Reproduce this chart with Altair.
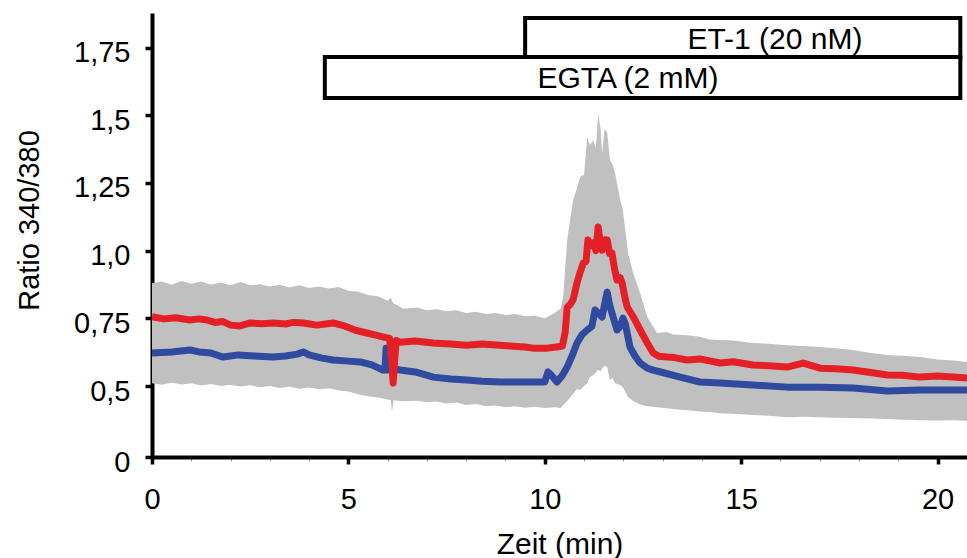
import altair as alt
import pandas as pd

# ---------------- data ----------------
red_t = [0, 0.3, 0.6, 0.97, 1.2, 1.4, 1.6, 1.81, 2.0, 2.24, 2.5, 2.8, 3.08, 3.4, 3.6, 3.85, 4.2, 4.61,
         4.9, 5.2, 5.47, 5.7, 5.9, 6.05, 6.1, 6.14, 6.18, 6.22, 6.32, 6.7, 7.16, 7.6, 8.02, 8.4, 8.86,
         9.2, 9.5, 9.7, 10.06, 10.3, 10.45, 10.52, 10.57, 10.64, 10.72, 10.82, 10.9, 10.98, 11.05,
         11.1, 11.16, 11.23, 11.3, 11.36, 11.42, 11.46, 11.52, 11.59, 11.65, 11.71, 11.78, 11.84,
         11.92, 11.97, 12.05, 12.1, 12.25, 12.43, 12.61, 12.76, 12.9, 13.11, 13.3, 13.62, 13.95,
         14.2, 14.46, 14.8, 15.3, 15.7, 16.17, 16.58, 17.01, 17.4, 17.85, 18.3, 18.72, 19.1, 19.56,
         20.0, 20.4, 20.75]
red_v = [0.756, 0.748, 0.752, 0.744, 0.748, 0.744, 0.735, 0.738, 0.725, 0.722, 0.733, 0.730, 0.733,
         0.729, 0.735, 0.733, 0.725, 0.733, 0.722, 0.705, 0.696, 0.688, 0.681, 0.676, 0.600, 0.511,
         0.600, 0.668, 0.662, 0.666, 0.659, 0.655, 0.651, 0.655, 0.651, 0.647, 0.644, 0.640, 0.640,
         0.644, 0.648, 0.700, 0.790, 0.800, 0.818, 0.880, 0.920, 0.954, 0.960, 1.039, 1.020, 1.028,
         1.000, 1.087, 1.020, 1.002, 1.040, 1.039, 0.990, 0.991, 0.930, 0.891, 0.900, 0.880, 0.820,
         0.792, 0.756, 0.707, 0.659, 0.622, 0.610, 0.607, 0.605, 0.596, 0.600, 0.593, 0.585, 0.590,
         0.578, 0.575, 0.570, 0.585, 0.566, 0.564, 0.559, 0.550, 0.541, 0.540, 0.533, 0.537, 0.533,
         0.530]

blue_t = [0, 0.5, 0.97, 1.2, 1.5, 1.81, 2.2, 2.6, 3.08, 3.4, 3.7, 3.85, 4.0, 4.3, 4.61, 5.0, 5.3,
          5.6, 5.88, 5.93, 5.96, 5.99, 6.2, 6.32, 6.7, 7.16, 7.6, 8.02, 8.4, 8.86, 9.3, 9.7, 10.0,
          10.08, 10.14, 10.31, 10.45, 10.57, 10.72, 10.82, 10.95, 11.08, 11.2, 11.28, 11.36, 11.46,
          11.52, 11.59, 11.65, 11.71, 11.84, 11.92, 11.99, 12.05, 12.17, 12.3, 12.43, 12.61, 12.76,
          13.0, 13.45, 13.95, 14.46, 15.3, 16.17, 17.01, 17.85, 18.72, 19.56, 20.75]
blue_v = [0.622, 0.626, 0.633, 0.626, 0.622, 0.607, 0.615, 0.611, 0.607, 0.611, 0.618, 0.626, 0.615,
          0.604, 0.596, 0.592, 0.589, 0.578, 0.559, 0.559, 0.640, 0.559, 0.562, 0.559, 0.552, 0.533,
          0.526, 0.522, 0.518, 0.515, 0.515, 0.515, 0.515, 0.552, 0.545, 0.515, 0.540, 0.570, 0.620,
          0.659, 0.690, 0.707, 0.720, 0.781, 0.770, 0.755, 0.800, 0.847, 0.800, 0.770, 0.707, 0.720,
          0.751, 0.730, 0.644, 0.610, 0.585, 0.566, 0.559, 0.550, 0.533, 0.515, 0.511, 0.504, 0.496,
          0.496, 0.493, 0.482, 0.485, 0.485]

band_t = [0.0, 0.25, 0.5, 0.75, 1.0, 1.25, 1.5, 1.75, 2.0, 2.25, 2.5, 2.75, 3.0, 3.25, 3.5, 3.75,
          4.0, 4.25, 4.5, 4.75, 5.0, 5.25, 5.5, 5.75, 6.0, 6.08, 6.11, 6.15, 6.4, 6.75, 7.0, 7.25,
          7.5, 7.75, 8.0, 8.25, 8.5, 8.75, 9.0, 9.25, 9.5, 9.75, 10.0, 10.25, 10.4, 10.47, 10.57,
          10.72, 10.82, 10.9, 11.0, 11.08, 11.15, 11.23, 11.3, 11.36, 11.42, 11.46, 11.52, 11.59,
          11.66, 11.72, 11.79, 11.92, 11.99, 12.12, 12.25, 12.43, 12.61, 12.86, 13.1, 13.27, 13.62,
          13.95, 14.2, 14.46, 14.8, 15.3, 15.7, 16.17, 16.6, 17.01, 17.4, 17.85, 18.3, 18.72, 19.1,
          19.56, 20.0, 20.4, 20.75]
band_lo = [0.510, 0.505, 0.512, 0.506, 0.510, 0.502, 0.508, 0.500, 0.505, 0.498, 0.503, 0.496, 0.500,
           0.493, 0.498, 0.490, 0.495, 0.488, 0.492, 0.484, 0.480, 0.470, 0.462, 0.458, 0.450, 0.448,
           0.404, 0.448, 0.444, 0.446, 0.440, 0.443, 0.436, 0.439, 0.430, 0.434, 0.425, 0.428, 0.422,
           0.425, 0.420, 0.424, 0.419, 0.422, 0.419, 0.430, 0.445, 0.470, 0.490, 0.485, 0.500, 0.510,
           0.533, 0.540, 0.550, 0.560, 0.555, 0.565, 0.575, 0.570, 0.522, 0.530, 0.510, 0.504, 0.496,
           0.460, 0.445, 0.432, 0.425, 0.422, 0.418, 0.415, 0.411, 0.406, 0.404, 0.400, 0.398, 0.393,
           0.390, 0.385, 0.387, 0.385, 0.383, 0.382, 0.380, 0.378, 0.376, 0.374, 0.373, 0.374, 0.372]
band_hi = [0.880, 0.886, 0.874, 0.888, 0.878, 0.886, 0.874, 0.882, 0.872, 0.884, 0.872, 0.876, 0.868,
           0.874, 0.864, 0.872, 0.862, 0.868, 0.860, 0.866, 0.852, 0.848, 0.836, 0.832, 0.815, 0.826,
           0.815, 0.806, 0.785, 0.790, 0.780, 0.784, 0.776, 0.780, 0.770, 0.774, 0.766, 0.770, 0.762,
           0.766, 0.758, 0.760, 0.750, 0.770, 0.785, 0.829, 1.039, 1.187, 1.230, 1.272, 1.280, 1.420,
           1.390, 1.408, 1.380, 1.508, 1.450, 1.360, 1.450, 1.434, 1.335, 1.320, 1.287, 1.187, 1.150,
           0.991, 0.917, 0.843, 0.755, 0.696, 0.700, 0.690, 0.688, 0.682, 0.672, 0.670, 0.668, 0.659,
           0.656, 0.651, 0.648, 0.644, 0.640, 0.633, 0.622, 0.615, 0.612, 0.607, 0.598, 0.594, 0.589]

# treatment bars: label, start (min), end (min)
bar_labels = ["ET-1 (20 nM)", "EGTA (2 mM)"]
bar_start = [9.5, 4.4]
bar_end = [20.58, 20.58]
bar_text_t = [15.86, 12.12]

y_ticks = [0.238, 0.5, 0.75, 1.0, 1.25, 1.5, 1.75]
x_ticks = list(range(0, 21))

# ---------------- chart ----------------
FONT = "Liberation Sans"
X_DOMAIN = [0, 20.75]
Y_DOMAIN = [0.238, 1.8775]

red_df = pd.DataFrame({"t": red_t, "v": red_v})
blue_df = pd.DataFrame({"t": blue_t, "v": blue_v})
band_df = pd.DataFrame({"t": band_t, "lo": band_lo, "hi": band_hi})
bars_df = pd.DataFrame({"label": bar_labels, "start": bar_start, "end": bar_end, "tt": bar_text_t,
                        "row": [0, 1]})

xscale = alt.Scale(domain=X_DOMAIN, nice=False, zero=False)
yscale = alt.Scale(domain=Y_DOMAIN, nice=False, zero=False)

xaxis = alt.Axis(
    values=x_ticks,
    labelExpr="datum.value % 5 == 0 ? format(datum.value, 'd') : ''",
    tickSize={"condition": {"test": "datum.value % 5 == 0", "value": 7}, "value": 4},
    tickWidth={"condition": {"test": "datum.value % 5 == 0", "value": 3.5}, "value": 1},
    tickColor={"condition": {"test": "datum.value % 5 == 0", "value": "#000000"}, "value": "#9a9a9a"},
    domainColor="#000000", domainWidth=4, grid=False, labelFlush=False,
    labelFont=FONT, labelFontSize=29, labelColor="#000000", labelPadding=21,
    title="Zeit (min)", titleFont=FONT, titleFontSize=30, titleFontWeight="normal",
    titleColor="#000000", titleBaseline="alphabetic", titleY=96,
)
yaxis = alt.Axis(
    values=y_ticks,
    labelExpr="datum.value < 0.3 ? '0' : replace(format(datum.value, (datum.value * 4) % 2 == 0 ? '.1f' : '.2f'), '.', ',')",
    tickSize=7, tickWidth=3.5, tickColor="#000000",
    domainColor="#000000", domainWidth=4, grid=False, labelFlush=False,
    labelFont=FONT, labelFontSize=29, labelColor="#000000", labelPadding=15, labelOffset=5,
    title="Ratio 340/380", titleFont=FONT, titleFontSize=29, titleFontWeight="normal",
    titleColor="#000000", titleAngle=-90, titleBaseline="middle", titleAlign="center",
    titleX=-123, titleY=207,
)

band = alt.Chart(band_df).mark_area(color="#c0c0c0", interpolate="linear", opacity=1).encode(
    x=alt.X("t:Q", scale=xscale, axis=xaxis),
    y=alt.Y("lo:Q", scale=yscale, axis=yaxis),
    y2="hi:Q",
)

blue = alt.Chart(blue_df).mark_line(color="#2f4a9e", strokeWidth=7, strokeJoin="round").encode(
    x=alt.X("t:Q", scale=xscale), y=alt.Y("v:Q", scale=yscale)
)
red = alt.Chart(red_df).mark_line(color="#e41f26", strokeWidth=7, strokeJoin="round").encode(
    x=alt.X("t:Q", scale=xscale), y=alt.Y("v:Q", scale=yscale)
)

boxes = alt.Chart(bars_df).mark_rect(fill="white", stroke="black", strokeWidth=4).encode(
    x=alt.X("start:Q", scale=xscale),
    x2="end:Q",
    y=alt.YValue(alt.expr("datum.row == 0 ? 5 : 44")),
    y2=alt.Y2Value(alt.expr("datum.row == 0 ? 44 : 85")),
)
labels = alt.Chart(bars_df).mark_text(font=FONT, fontSize=30, color="black", baseline="middle").encode(
    x=alt.X("tt:Q", scale=xscale),
    y=alt.YValue(alt.expr("datum.row == 0 ? 27 : 66")),
    text="label:N",
)

chart = alt.layer(band, blue, red, boxes, labels).properties(
    width=815, height=444,
    autosize=alt.AutoSizeParams(type="none"),
    padding={"left": 152, "top": 13, "right": 0, "bottom": 101},
    background="white",
).configure_view(stroke=None)

chart.save("out.html", embed_options={"renderer": "svg", "actions": False})
